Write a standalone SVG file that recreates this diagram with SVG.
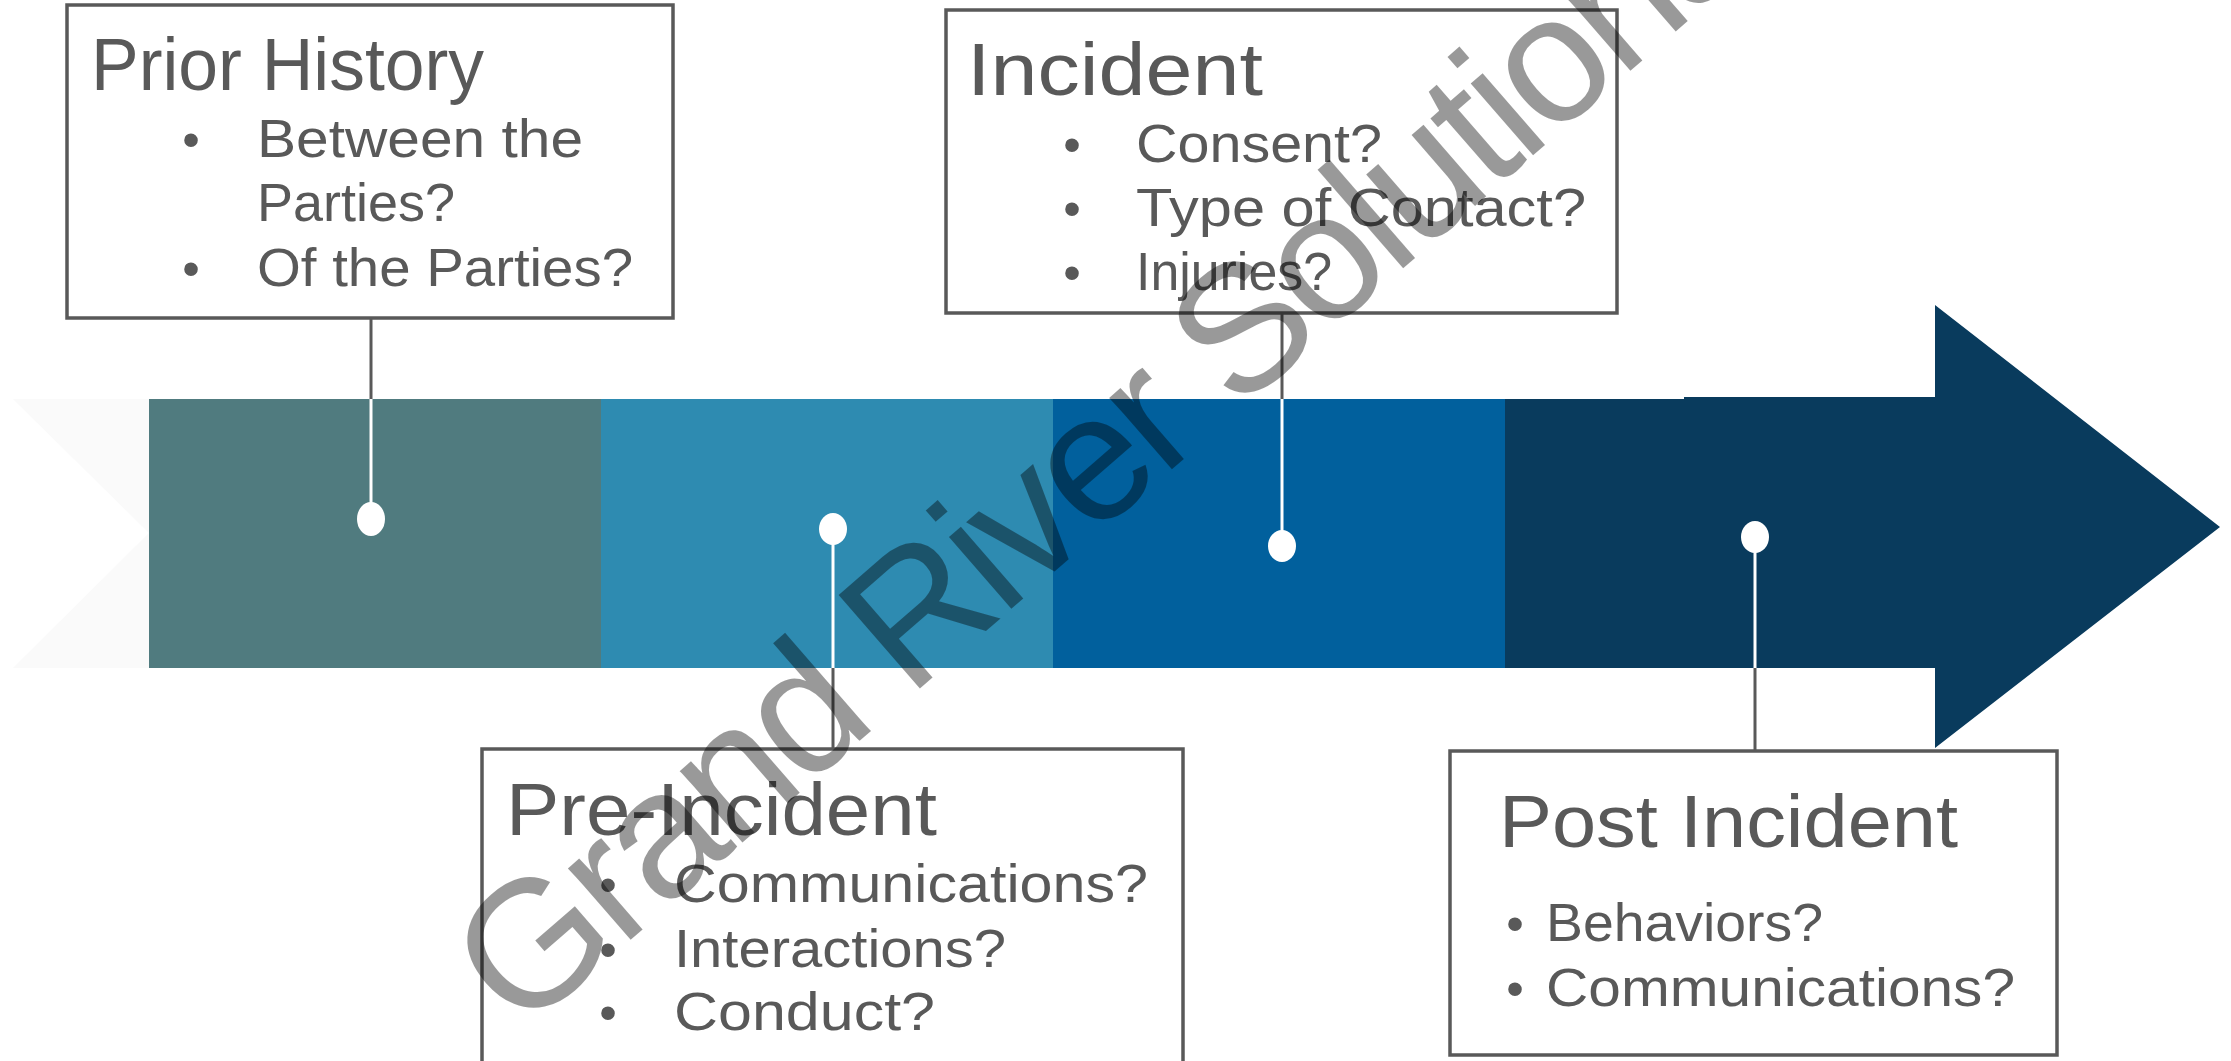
<svg xmlns="http://www.w3.org/2000/svg" width="2231" height="1061" viewBox="0 0 2231 1061">
<style>
.box{fill:#ffffff;stroke:#595959;stroke-width:3.5}
.title{font-family:"Liberation Sans",Arial,sans-serif;font-size:74px;fill:#595959}
.body{font-family:"Liberation Sans",Arial,sans-serif;font-size:54px;fill:#595959}
.bul{font-family:"Liberation Sans",Arial,sans-serif;font-size:50px;fill:#595959;text-anchor:middle}
.gl{stroke:#595959;stroke-width:3;fill:none}
.wl{stroke:#ffffff;stroke-width:3;fill:none}
.dot{fill:#ffffff}
.wm{font-family:"Liberation Sans",Arial,sans-serif;font-size:180px;fill:#000000;fill-opacity:0.4}
</style>
<rect x="0" y="0" width="2231" height="1061" fill="#ffffff"/>
<g id="timeline">
<polygon points="13,399 149,399 149,533" fill="#FAFAFA"/>
<polygon points="149,533 149,668 13,668" fill="#FAFAFA"/>
<rect x="149" y="399" width="452" height="269" fill="#507B7F"/>
<rect x="601" y="399" width="452" height="269" fill="#2E8BB1"/>
<rect x="1053" y="399" width="452" height="269" fill="#01609D"/>
<polygon points="1505,399 1684,399 1684,397 1935,397 1935,305 2220,527 1935,748 1935,668 1505,668" fill="#093B5D"/>
</g>
<g id="connectors">
<line class="gl" x1="371" y1="319" x2="371" y2="399"/>
<line class="wl" x1="371" y1="399" x2="371" y2="519"/>
<ellipse class="dot" cx="371" cy="519" rx="14" ry="17"/>
<line class="wl" x1="833" y1="529" x2="833" y2="668"/>
<line class="gl" x1="833" y1="668" x2="833" y2="749"/>
<ellipse class="dot" cx="833" cy="529" rx="14" ry="16"/>
<line class="gl" x1="1282" y1="313" x2="1282" y2="399"/>
<line class="wl" x1="1282" y1="399" x2="1282" y2="546"/>
<ellipse class="dot" cx="1282" cy="546" rx="14" ry="16"/>
<line class="wl" x1="1755" y1="537" x2="1755" y2="668"/>
<line class="gl" x1="1755" y1="668" x2="1755" y2="751"/>
<ellipse class="dot" cx="1755" cy="537" rx="14" ry="16"/>
</g>
<g id="prior-history">
<rect class="box" x="67" y="5" width="606" height="313"/>
<text class="title" x="91" y="90" textLength="393" lengthAdjust="spacingAndGlyphs">Prior History</text>
<text class="bul" x="191" y="157">•</text>
<text class="body" x="257" y="157" textLength="326" lengthAdjust="spacingAndGlyphs">Between the</text>
<text class="body" x="257" y="221" textLength="198" lengthAdjust="spacingAndGlyphs">Parties?</text>
<text class="bul" x="191" y="286">•</text>
<text class="body" x="257" y="286" textLength="376" lengthAdjust="spacingAndGlyphs">Of the Parties?</text>
</g>
<g id="incident">
<rect class="box" x="946" y="10" width="671" height="303"/>
<text class="title" x="967" y="95" textLength="296" lengthAdjust="spacingAndGlyphs">Incident</text>
<text class="bul" x="1072" y="162">•</text>
<text class="body" x="1136" y="162" textLength="246" lengthAdjust="spacingAndGlyphs">Consent?</text>
<text class="bul" x="1072" y="226">•</text>
<text class="body" x="1136" y="226" textLength="450" lengthAdjust="spacingAndGlyphs">Type of Contact?</text>
<text class="bul" x="1072" y="290">•</text>
<text class="body" x="1136" y="290" textLength="196" lengthAdjust="spacingAndGlyphs">Injuries?</text>
</g>
<g id="pre-incident">
<rect class="box" x="482" y="749" width="701" height="330"/>
<text class="title" x="506" y="835" textLength="431" lengthAdjust="spacingAndGlyphs">Pre-Incident</text>
<text class="bul" x="608" y="902">•</text>
<text class="body" x="674" y="902" textLength="474" lengthAdjust="spacingAndGlyphs">Communications?</text>
<text class="bul" x="608" y="967">•</text>
<text class="body" x="674" y="967" textLength="332" lengthAdjust="spacingAndGlyphs">Interactions?</text>
<text class="bul" x="608" y="1030">•</text>
<text class="body" x="674" y="1030" textLength="261" lengthAdjust="spacingAndGlyphs">Conduct?</text>
</g>
<g id="post-incident">
<rect class="box" x="1450" y="751" width="607" height="304"/>
<text class="title" x="1499" y="847" textLength="459" lengthAdjust="spacingAndGlyphs">Post Incident</text>
<text class="bul" x="1515" y="941">•</text>
<text class="body" x="1546" y="941" textLength="277" lengthAdjust="spacingAndGlyphs">Behaviors?</text>
<text class="bul" x="1515" y="1006">•</text>
<text class="body" x="1546" y="1006" textLength="469" lengthAdjust="spacingAndGlyphs">Communications?</text>
</g>
<g id="watermark">
<text class="wm" transform="translate(520,1036) rotate(-41)" textLength="1643">Grand River Solutions</text>
</g>
</svg>
